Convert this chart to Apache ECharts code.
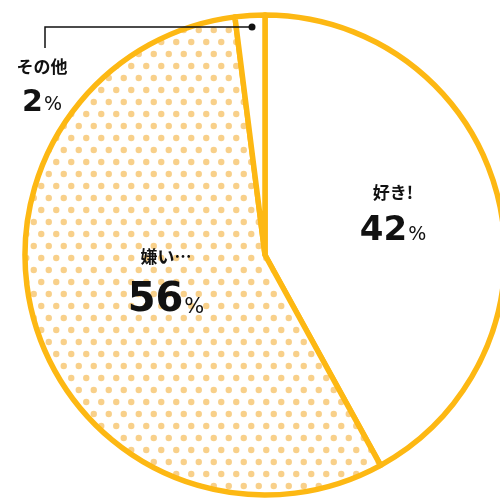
<!DOCTYPE html>
<html>
<head>
<meta charset="utf-8">
<style>
  html, body { margin: 0; padding: 0; background: #ffffff; }
  #chart { width: 500px; height: 501px; }
</style>
<script src="https://cdn.jsdelivr.net/npm/echarts@6/dist/echarts.min.js"></script>
</head>
<body>
<div id="chart"></div>
<script>
// Survey answers and their shares (%)
const categories = ['好き!', '嫌い…', 'その他'];
const shares = [42, 56, 2];

// Palette
const ringColor = '#FDB813';
const dotColor = '#F8D08A';
const inkColor = '#111111';

// Polka-dot tile used to fill the "嫌い…" slice
function dotTile() {
  const w = 15, h = 24, r = 3.2;
  const c = document.createElement('canvas');
  c.width = w; c.height = h;
  const g = c.getContext('2d');
  g.fillStyle = '#ffffff';
  g.fillRect(0, 0, w, h);
  g.fillStyle = dotColor;
  [[3.75, 6], [11.25, 18]].forEach(function (p) {
    g.beginPath(); g.arc(p[0], p[1], r, 0, Math.PI * 2); g.fill();
  });
  return c;
}

const fills = ['#ffffff', { image: dotTile(), repeat: 'repeat' }, '#ffffff'];

// Where each label block sits (top-centre of the text block)
const labelSpots = [
  { x: 393, y: 180 },
  { x: 166, y: 241 },
  { x: 42, y: 54 }
];
// Leader for the small slice: dot inside the slice, across, then down to the text
const leader = [[252, 27], [45, 27], [45, 48]];

const numSize = [34, 40, 30];
const pctSize = [19, 21, 19];
const nameGap = [26, 32, 26];

const chart = echarts.init(document.getElementById('chart'), null, { renderer: 'canvas' });

chart.setOption({
  animation: false,
  series: [{
    type: 'pie',
    center: [265, 255],
    radius: 240,
    startAngle: 90,
    clockwise: true,
    silent: true,
    itemStyle: {
      borderColor: ringColor,
      borderWidth: 5.5,
      borderJoin: 'round'
    },
    label: { position: 'inside' },
    labelLine: { show: false },
    labelLayout: function (params) {
      const s = labelSpots[params.dataIndex];
      return { x: s.x, y: s.y, align: 'center', verticalAlign: 'top' };
    },
    data: categories.map(function (name, i) {
      return {
        name: name,
        value: shares[i],
        itemStyle: { color: fills[i] },
        label: {
          show: true,
          formatter: '{name|{b}}\n{num|{c}}{pct|%}',
          rich: {
            name: {
              fontFamily: '"Noto Sans CJK JP", sans-serif',
              fontWeight: 'bold',
              fontSize: 17,
              color: inkColor,
              lineHeight: nameGap[i],
              align: 'center'
            },
            num: {
              fontFamily: '"DejaVu Sans", sans-serif',
              fontWeight: 'bold',
              fontSize: numSize[i],
              color: inkColor,
              verticalAlign: 'bottom',
              lineHeight: numSize[i] + 8
            },
            pct: {
              fontFamily: '"DejaVu Sans", sans-serif',
              fontSize: pctSize[i],
              color: inkColor,
              verticalAlign: 'bottom',
              padding: [0, 0, 3, 1]
            }
          }
        }
      };
    })
  }],
  graphic: [{
    type: 'polyline',
    shape: { points: leader },
    style: { stroke: inkColor, lineWidth: 1.5, fill: null },
    z: 100
  }, {
    type: 'circle',
    shape: { cx: leader[0][0], cy: leader[0][1], r: 3.5 },
    style: { fill: inkColor },
    z: 101
  }]
});
</script>
</body>
</html>
